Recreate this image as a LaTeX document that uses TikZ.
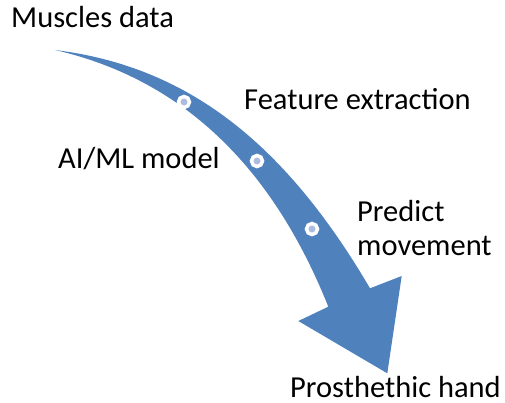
\documentclass[tikz,border=0pt]{standalone}
\usepackage{fontspec}
\setmainfont{Carlito}
\definecolor{flowblue}{RGB}{79,129,189}
\definecolor{dotfill}{RGB}{172,188,222}
\begin{document}
\begin{tikzpicture}[x=1pt,y=-1pt,
  label text/.style={inner sep=0pt,anchor=base west,font=\fontsize{30.5}{33}\selectfont},
  stepdot/.style={circle,fill=dotfill,draw=white,line width=3.5pt,minimum size=11pt,inner sep=0pt}]
\useasboundingbox (0,0) rectangle (505,403);

% curved flow arrow
\fill[flowblue] (55,50)
  .. controls (185,66) and (283,140) .. (370,288.3)
  -- (401.7,276) -- (387.3,373.3) -- (298.3,321) -- (328.3,306.7)
  .. controls (271.3,164.1) and (180.3,78.8) .. (55,50) -- cycle;

% stage markers along the arrow
\node[stepdot] (d1) at (184,102) {};
\node[stepdot] (d2) at (257,161) {};
\node[stepdot] (d3) at (312,229) {};

% labels
\node[label text] (muscles) at (11,28) {Muscles data};
\node[label text] (feature) at (244,110) {Feature extraction};
\node[label text] (model) at (58,169) {AI/ML model};
\node[label text] (predict) at (357,222) {Predict};
\node[label text] (movement) at (357,255) {movement};
\node[label text] (hand) at (290,397) {Prosthethic hand};
\end{tikzpicture}
\end{document}
